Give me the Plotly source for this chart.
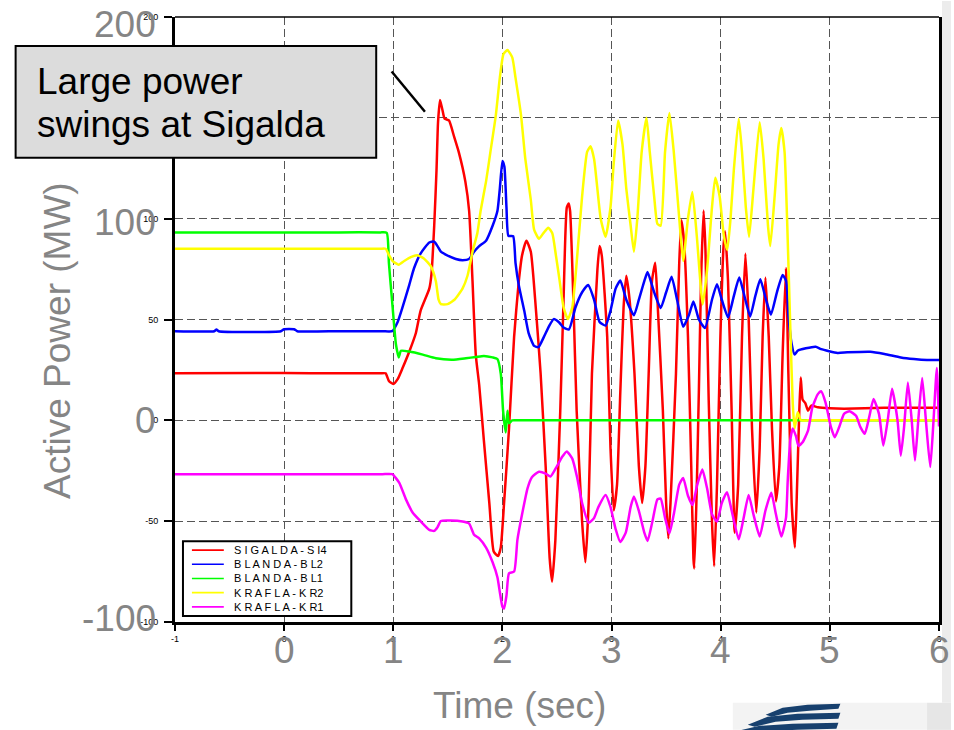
import plotly.graph_objects as go

# ---------------- data ----------------
series_names = ["SIGALDA-SI4", "BLANDA-BL2", "BLANDA-BL1", "KRAFLA-KR2", "KRAFLA-KR1"]
legend_labels = ["S I G A L D A - S I4", "B L A N D A - B L2", "B L A N D A - B L1",
                 "K R A F L A - K R2", "K R A F L A - K R1"]
series_colors = ["#ff0000", "#0000ff", "#00ff00", "#ffff00", "#ff00ff"]

red_t = [-1, 0.0, 0.5, 0.88, 0.93, 0.96, 1.0, 1.04, 1.085, 1.146, 1.207, 1.25, 1.33, 1.35, 1.375, 1.396, 1.41,
         1.428, 1.45, 1.47, 1.51, 1.558, 1.60, 1.66, 1.695, 1.726, 1.756, 1.787, 1.83, 1.88, 1.92,
         1.96, 1.985, 2.015, 2.06, 2.107, 2.15, 2.18, 2.22, 2.26, 2.30, 2.35, 2.396, 2.433, 2.455,
         2.485, 2.53, 2.56, 2.59, 2.607, 2.62, 2.65, 2.68, 2.73, 2.76, 2.79, 2.82, 2.87, 2.89, 2.91,
         2.96, 2.99, 3.02, 3.05, 3.08, 3.11, 3.135, 3.165, 3.21, 3.25, 3.28, 3.31, 3.34, 3.37, 3.40,
         3.42, 3.47, 3.50, 3.52, 3.54, 3.59, 3.62, 3.64, 3.666, 3.70, 3.73, 3.75, 3.758, 3.78, 3.80,
         3.82, 3.843, 3.86, 3.89, 3.92, 3.94, 3.966, 3.997, 4.027, 4.04, 4.067, 4.10, 4.128, 4.16,
         4.195, 4.226, 4.256, 4.287, 4.326, 4.357, 4.384, 4.41, 4.44, 4.47, 4.506, 4.537, 4.567,
         4.598, 4.62, 4.65, 4.68, 4.70, 4.72, 4.733, 4.75, 4.775, 4.80, 4.83, 4.89, 5.0, 5.13, 5.5,
         5.9, 6.0]
red_v = [23.3, 23.5, 23.3, 23.3, 23.3, 19.5, 18, 20.4, 25.9, 34, 43.3, 54.3, 65.3, 72.6, 96.5, 124, 147.8,
         158.8, 154, 149.6, 148.7, 140.5, 133, 118.5, 103.8, 69, 32.3, 17.6, -9.9, -41, -65,
         -67.3, -63, -41, -4.4, 41.4, 69, 81.8, 89.1, 83.6, 59.8, 23.1, -22.7, -68.6, -80,
         -59.4, 4.8, 59.8, 105.6, 107.5, 103.8, 59.8, 4.8, -50.2, -70.4, -41, 23.1, 74.5, 86.4, 81.8,
         41.4, -13.6, -44.7, -31.9, 13.9, 56.1, 71.7, 59.8, 23.1, -22.7, -41, -22.7, 23.1, 69, 78.1,
         59.8, 4.8, -41, -58.5, -41, 23.1, 78.1, 99.2, 87.3, 41.4, -22.7, -68.6, -73.5, -35, 15,
         70, 104, 85, 10, -50, -72.3, -31.9, 41.4, 87.3, 93.7, 69, 4.8, -55.7, -31.9,
         41.4, 82.7, 50.6, -4.4, -45.7, -13.6, 41.4, 70.8, 41.4, -4.4, -40.2, -22.7, 32.3,
         75.4, 23.1, -41, -63.1, -31.9, 4.8, 21.3, 10.3, 8.5, 4.8, 7.3, 6.5, 6.0, 5.8, 6.2,
         6.2, 6.2]

blue_t = [-1, -0.64, -0.62, -0.60, -0.03, 0.0, 0.09, 0.12, 0.5, 0.9, 0.99, 1.04, 1.085, 1.146, 1.19, 1.25,
          1.33, 1.375, 1.405, 1.436, 1.48, 1.573, 1.634, 1.695, 1.74, 1.787, 1.85, 1.91, 1.954,
          1.976, 2.0, 2.018, 2.037, 2.055, 2.098, 2.12, 2.15, 2.20, 2.24, 2.29, 2.33, 2.38, 2.43,
          2.47, 2.52, 2.56, 2.61, 2.67, 2.73, 2.785, 2.84, 2.89, 2.945, 2.99, 3.037, 3.08, 3.135,
          3.205, 3.25, 3.30, 3.33, 3.39, 3.45, 3.50, 3.55, 3.60, 3.656, 3.71, 3.75, 3.80, 3.856,
          3.92, 3.966, 4.01, 4.067, 4.12, 4.17, 4.226, 4.27, 4.317, 4.363, 4.415, 4.46, 4.515,
          4.567, 4.60, 4.62, 4.65, 4.677, 4.705, 4.78, 4.87, 4.92, 5.07, 5.16, 5.37, 5.5, 5.65,
          5.77, 5.89, 6.0]
blue_v = [44.2, 44.2, 45, 44.2, 44.2, 45.2, 45.2, 44.2, 44.2, 44.2, 44.2, 48.8, 56.1, 67.1, 75.4, 82.7,
          88.2, 88.6, 86.4, 83.6, 82.2, 80, 79.4, 80, 83.6, 86.4, 89.1, 96.5, 103.8,
          114.8, 128.6, 125.8, 105.6, 91.5, 91.3, 78, 67, 54.3, 43.3, 36.9, 36.3, 41.4, 47,
          50.2, 48.5, 46, 45.1, 56.1, 63.5, 67.1, 59.8, 48.8, 47, 54.3, 65.3, 69.3, 59.8,
          52.1, 59.8, 69, 73.5, 63.5, 55.7, 63.5, 71.2, 59.8, 46.4, 52.4, 58.9, 50, 45.8,
          59.8, 67.5, 59.8, 51, 61.6, 70.8, 59.8, 51.5, 61.6, 69.9, 59.8, 52.4, 63.5,
          72.1, 69, 52.4, 37.8, 32.6, 34.5, 35.7, 36.5, 35.3, 33.4, 33.7, 34, 32.9, 31.2,
          30.4, 29.9, 29.9]

green_t = [-1, 0.0, 0.5, 0.88, 0.94, 0.96, 0.994, 1.024, 1.05, 1.07, 1.146, 1.27, 1.39, 1.54, 1.665,
           1.756, 1.83, 1.91, 1.954, 1.985, 2.006, 2.03, 2.046, 2.06, 2.09, 2.15, 3.0, 4.0, 5.0,
           5.9, 6.0]
green_v = [93.2, 93.2, 93.2, 93.2, 93, 78, 56, 37.8, 31.2, 34.5, 34.1, 32.6, 30.8, 30.1, 30.8,
           31.4, 31.9, 31.2, 30.4, 23.1, 4.8, -6, 4.8, -1.5, 0, 0, 0, 0, 0,
           0, 0]

yellow_t = [-1, 0.5, 0.88, 0.93, 0.96, 0.994, 1.05, 1.1, 1.16, 1.22, 1.28, 1.345, 1.39, 1.415, 1.436, 1.497,
            1.56, 1.634, 1.68, 1.726, 1.77, 1.80, 1.85, 1.89, 1.94, 1.976, 2.01, 2.046, 2.09, 2.12,
            2.17, 2.21, 2.26, 2.29, 2.335, 2.375, 2.42, 2.457, 2.49, 2.52, 2.56, 2.60, 2.64, 2.68,
            2.73, 2.776, 2.807, 2.84, 2.87, 2.9, 2.945, 2.99, 3.02, 3.06, 3.1, 3.135, 3.175, 3.205,
            3.236, 3.276, 3.32, 3.35, 3.39, 3.42, 3.45, 3.49, 3.53, 3.57, 3.62, 3.656, 3.70, 3.74,
            3.78, 3.835, 3.875, 3.92, 3.95, 3.99, 4.03, 4.06, 4.09, 4.12, 4.165, 4.195, 4.23, 4.26,
            4.30, 4.357, 4.393, 4.433, 4.454, 4.494, 4.53, 4.555, 4.585, 4.61, 4.64, 4.66, 4.677,
            4.705, 4.735, 4.8, 5.0, 5.5, 5.9, 6.0]
yellow_v = [85.1, 85.1, 85.1, 85.1, 82, 79, 77.2, 79, 80.9, 81.8, 80.3, 76.3, 69, 59.8, 57.6, 57.6,
            59.8, 65.3, 71.7, 83.6, 92.8, 103.8, 118.5, 133.1, 151.5, 169.8, 181.7, 183.6, 180, 169.8,
            151.5, 129.5, 109.3, 94.6, 90, 92.8, 95.5, 92.8, 81.8, 70.8, 56.1, 50.2, 56.1, 78.1,
            111.1, 133.1, 135.9, 129.5, 114.8, 100.1, 91, 105.6, 127.6, 148.7, 136.8, 114.8, 96.5, 83.6,
            100.1, 133.1, 150, 133.1, 111.1, 97.4, 96.5, 133.1, 152.4, 133.1, 100.1, 79, 100.1, 113.2,
            92, 57.5, 74.5, 105.6, 120.3, 111.1, 91, 84.5, 100.1, 124, 149.6, 133.1, 105.6, 91,
            114.8, 147.8, 129.5, 96.5, 86.4, 111.1, 136.8, 145, 133.1, 96.5, 41.4, 8.4, -4,
            4, 0, 0, 0, 0, 0, 0]

magenta_t = [-1, 0.5, 0.9, 0.99, 1.055, 1.116, 1.177, 1.253, 1.33, 1.375, 1.405, 1.436, 1.527, 1.634, 1.695,
             1.74, 1.787, 1.85, 1.91, 1.954, 1.976, 2.0, 2.015, 2.037, 2.06, 2.107, 2.137, 2.18, 2.23,
             2.27, 2.335, 2.396, 2.44, 2.50, 2.546, 2.59, 2.64, 2.684, 2.73, 2.79, 2.84, 2.88, 2.945,
             2.99, 3.037, 3.08, 3.13, 3.175, 3.205, 3.25, 3.30, 3.33, 3.374, 3.42, 3.45, 3.49, 3.53,
             3.57, 3.62, 3.656, 3.70, 3.742, 3.785, 3.832, 3.875, 3.92, 3.966, 4.01, 4.058, 4.10,
             4.165, 4.21, 4.256, 4.30, 4.357, 4.41, 4.463, 4.506, 4.555, 4.598, 4.614, 4.637, 4.66,
             4.69, 4.713, 4.75, 4.80, 4.84, 4.89, 4.92, 4.96, 5.01, 5.045, 5.085, 5.13, 5.18, 5.24,
             5.28, 5.32, 5.36, 5.40, 5.45, 5.49, 5.53, 5.57, 5.62, 5.65, 5.68, 5.715, 5.75, 5.78,
             5.81, 5.846, 5.88, 5.92, 5.95, 5.98, 6.0]
magenta_v = [-26.7, -26.7, -26.7, -26.7, -31, -39.2, -45.7, -50.2, -54.3, -54.8, -53, -49.9, -49.7, -50.2, -51.2,
             -56.7, -58.5, -63.1, -70.4, -77.8, -85.1, -92.4, -93.3, -86.9, -75.9, -75, -59.4, -46.6, -33.7,
             -28.2, -25.5, -26.4, -27.9, -22.7, -18.2, -15.4, -19, -28.2, -41, -50.8, -48.4, -42.9, -37,
             -42.9, -53.9, -60.3, -55.7, -42.9, -37.8, -44.9, -55.7, -59.8, -50.2, -39.2, -38.8, -48.4, -56.1,
             -46.6, -31.9, -28.6, -37.4, -42, -31.9, -24.4, -33.7, -46.6, -50.2, -41, -35.6, -44.7,
             -59, -48.4, -37, -46.6, -57.6, -44.7, -35.9, -46.6, -57.6, -48.4, -29.9, -9.9, -4,
             -8, -12.7, -10.9, -5.1, 6.5, 13, 14.4, 8.9, -3.4, -8.4, -3.4, 3.2, 4.5, 2.3,
             -3.4, -6.7, 1.5, 10.6, 3.2, -12.5, 0, 15.6, 0, -17.5, -3.4, 18.8, 0, -19.9,
             0, 21, 0, -23.2, 0, 25.9, -3]

series_t = [red_t, blue_t, green_t, yellow_t, magenta_t]
series_v = [red_v, blue_v, green_v, yellow_v, magenta_v]

x_ticks = [-1, 0, 1, 2, 3, 4, 5, 6]
y_ticks = [-100, -50, 0, 50, 100, 150, 200]
y_hidden_labels = [150]          # covered by the callout box in the picture
big_x_labels = [0, 1, 2, 3, 4, 5, 6]
big_y_labels = [200, 100, 0, -100]
x_title = "Time (sec)"
y_title = "Active Power (MW)"
callout_lines = ["Large power", "swings at Sigalda"]

# ---------------- layout helpers ----------------
W, H = 954, 730
ML, MR, MT, MB = 175, 12, 16, 108
PW, PH = W - ML - MR, H - MT - MB
FONT = "Liberation Sans, Arial, sans-serif"
GREY = "#858585"


def fx(p):  # pixel x -> paper
    return (p - ML) / PW


def fy(p):  # pixel y -> paper
    return (H - MB - p) / PH


fig = go.Figure()
for name, col, t, v in zip(series_names, series_colors, series_t, series_v):
    fig.add_trace(go.Scatter(x=t, y=v, mode="lines", name=name, showlegend=False,
                             line=dict(color=col, width=2.5, shape="spline", smoothing=0.5)))

fig.update_layout(
    width=W, height=H, margin=dict(l=ML, r=MR, t=MT, b=MB),
    paper_bgcolor="white", plot_bgcolor="white",
    font=dict(family=FONT, color="black"),
    xaxis=dict(range=[-1, 6], tickvals=x_ticks, ticktext=[str(v) for v in x_ticks],
               tickfont=dict(size=9, color="black"), ticks="outside", ticklen=6,
               tickwidth=1.5, tickcolor="black", showline=True, linewidth=3,
               linecolor="black", showgrid=True, gridcolor="#555555", gridwidth=1.2,
               griddash="8px,4px", zeroline=False),
    yaxis=dict(range=[-100, 200], tickvals=y_ticks,
               ticktext=["" if v in y_hidden_labels else str(v) for v in y_ticks],
               tickfont=dict(size=9, color="black"), ticks="outside", ticklen=8,
               tickwidth=1.5, tickcolor="black", showline=True, linewidth=3, mirror=True,
               linecolor="black", showgrid=True, gridcolor="#555555", gridwidth=1.2,
               griddash="8px,4px", zeroline=False, ticklabelstandoff=4),
)

shapes = []
annotations = []

# top frame line
shapes.append(dict(type="line", xref="paper", yref="paper", x0=0, x1=1, y0=1, y1=1,
                   line=dict(color="black", width=1.5)))

# slide background pieces (right strip, bottom-right band, logo)
shapes.append(dict(type="rect", xref="paper", yref="paper", x0=fx(945), x1=fx(954),
                   y0=fy(703), y1=fy(0), fillcolor="#ececec", line=dict(width=0), layer="below"))
shapes.append(dict(type="rect", xref="paper", yref="paper", x0=fx(735), x1=fx(954),
                   y0=fy(730), y1=fy(703), fillcolor="#f3f3f3", line=dict(width=0), layer="below"))
shapes.append(dict(type="rect", xref="paper", yref="paper", x0=fx(930), x1=fx(954),
                   y0=fy(730), y1=fy(703), fillcolor="#e6e6e6", line=dict(width=0), layer="below"))


def path_px(points):
    return "M " + " L ".join(f"{fx(a):.5f},{fy(b):.5f}" for a, b in points) + " Z"


logo = [
    [(768, 715), (785, 708), (810, 705), (843, 704), (841, 709), (812, 711), (790, 713), (774, 717)],
    [(750, 725), (770, 717), (800, 714), (843, 713), (841, 719), (805, 720), (778, 722), (757, 727)],
    [(740, 731), (762, 726), (795, 724), (841, 723), (839, 729), (800, 730), (770, 731)],
]
for pts in logo:
    shapes.append(dict(type="path", xref="paper", yref="paper", path=path_px(pts),
                       fillcolor="#17406e", line=dict(width=0), layer="above"))

# callout box + pointer
shapes.append(dict(type="rect", xref="paper", yref="paper", x0=fx(15), x1=fx(377),
                   y0=fy(157), y1=fy(45), fillcolor="#dcdcdc",
                   line=dict(color="black", width=2), layer="above"))
shapes.append(dict(type="line", xref="x", yref="y", x0=0.985, y0=173, x1=1.29, y1=153,
                   line=dict(color="black", width=2.5), layer="above"))
for i, txt in enumerate(callout_lines):
    annotations.append(dict(text=txt, xref="paper", yref="paper", x=fx(34), y=fy(80.5 + 43.4 * i),
                            xanchor="left", yanchor="middle", showarrow=False,
                            font=dict(size=37, color="black", family=FONT)))

# manual legend (compact, as in the picture)
shapes.append(dict(type="rect", xref="paper", yref="paper", x0=fx(183), x1=fx(352),
                   y0=fy(616), y1=fy(541), fillcolor="white",
                   line=dict(color="black", width=2), layer="above"))
for i, (lab, col) in enumerate(zip(legend_labels, series_colors)):
    yy = 550 + 14.2 * i
    shapes.append(dict(type="line", xref="paper", yref="paper", x0=fx(192), x1=fx(224),
                       y0=fy(yy), y1=fy(yy), line=dict(color=col, width=1.6), layer="above"))
    annotations.append(dict(text=lab, xref="paper", yref="paper", x=fx(232), y=fy(yy),
                            xanchor="left", yanchor="middle", showarrow=False,
                            font=dict(size=11, color="black", family=FONT)))

# large grey overlay labels of the slide
for v in big_y_labels:
    annotations.append(dict(text=str(v), xref="paper", yref="paper", x=fx(158),
                            y=fy(420 - v * 1.98), xanchor="right", yanchor="middle",
                            showarrow=False, font=dict(size=37, color=GREY, family=FONT)))
for v in big_x_labels:
    annotations.append(dict(text=str(v), xref="x", yref="paper", x=v, y=fy(651),
                            xanchor="center", yanchor="middle", showarrow=False,
                            font=dict(size=37, color=GREY, family=FONT)))
annotations.append(dict(text=x_title, xref="paper", yref="paper", x=fx(521), y=fy(706),
                        xanchor="center", yanchor="middle", showarrow=False,
                        font=dict(size=37, color=GREY, family=FONT)))
annotations.append(dict(text=y_title, xref="paper", yref="paper", x=fx(57), y=fy(340),
                        xanchor="center", yanchor="middle", textangle=-90, showarrow=False,
                        font=dict(size=37, color=GREY, family=FONT)))

fig.update_layout(shapes=shapes, annotations=annotations)
fig.write_html("out.html")
